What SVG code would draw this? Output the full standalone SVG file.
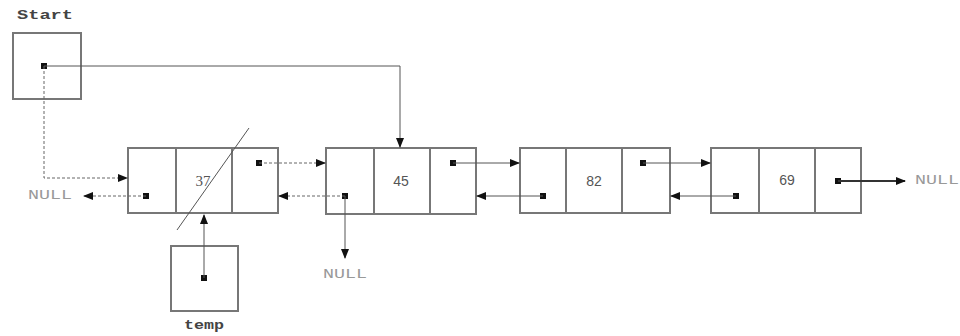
<svg xmlns="http://www.w3.org/2000/svg" width="960" height="336" viewBox="0 0 960 336">
<style>
.box{fill:none;stroke:#777;stroke-width:2}
.div{stroke:#777;stroke-width:2}
.dot{fill:#111}
.solid{fill:none;stroke:#555;stroke-width:1}
.dash{fill:none;stroke:#666;stroke-width:1;stroke-dasharray:3 2}
.thick{fill:none;stroke:#333;stroke-width:2}
.val{font-family:"Liberation Sans",Arial,sans-serif;font-size:14px;fill:#555;text-anchor:middle;dominant-baseline:middle}
.lbl{font-family:"Liberation Mono","Courier New",monospace;font-size:13px;fill:#999;dominant-baseline:middle}
.name{font-family:"Liberation Mono","Courier New",monospace;font-size:12px;font-weight:bold;fill:#444;text-anchor:middle;dominant-baseline:middle}
</style>
<defs>
<marker id="ah" markerWidth="10" markerHeight="8" refX="9" refY="4" orient="auto" markerUnits="userSpaceOnUse">
<path d="M0,0 L10,4 L0,8 Z" fill="#111"/>
</marker>
</defs>
<rect width="960" height="336" fill="#fff"/>

<g id="start">
<text class="name" x="45" y="16" textLength="56" lengthAdjust="spacingAndGlyphs">Start</text>
<rect class="box" x="13" y="33" width="68" height="66"/>
<rect class="dot" x="41" y="63" width="6" height="6"/>
</g>

<g id="temp">
<rect class="box" x="171" y="246" width="67" height="65"/>
<rect class="dot" x="201" y="275" width="6" height="6"/>
<text class="name" x="204" y="326" textLength="40" lengthAdjust="spacingAndGlyphs">temp</text>
</g>

<g id="node37">
<rect class="box" x="128" y="148" width="150" height="65"/>
<line class="div" x1="176" y1="148" x2="176" y2="213"/>
<line class="div" x1="232" y1="148" x2="232" y2="213"/>
<text class="val" x="203" y="183" style="font-family:'Liberation Serif','Times New Roman',serif;font-size:15px">37</text>
<line class="solid" x1="177" y1="230" x2="249" y2="128" stroke="#444"/>
<rect class="dot" x="143" y="193" width="6" height="6"/>
<rect class="dot" x="256" y="160" width="6" height="6"/>
</g>

<g id="node45">
<rect class="box" x="326" y="148" width="150" height="66"/>
<line class="div" x1="374" y1="148" x2="374" y2="214"/>
<line class="div" x1="430" y1="148" x2="430" y2="214"/>
<text class="val" x="401" y="182">45</text>
<rect class="dot" x="342" y="193" width="6" height="6"/>
<rect class="dot" x="450" y="160" width="6" height="6"/>
</g>

<g id="node82">
<rect class="box" x="520" y="148" width="150" height="65"/>
<line class="div" x1="566" y1="148" x2="566" y2="213"/>
<line class="div" x1="622" y1="148" x2="622" y2="213"/>
<text class="val" x="594" y="182">82</text>
<rect class="dot" x="540" y="193" width="6" height="6"/>
<rect class="dot" x="640" y="160" width="6" height="6"/>
</g>

<g id="node69">
<rect class="box" x="711" y="148" width="150" height="65"/>
<line class="div" x1="759" y1="148" x2="759" y2="213"/>
<line class="div" x1="815" y1="148" x2="815" y2="213"/>
<text class="val" x="787" y="181">69</text>
<rect class="dot" x="733" y="193" width="6" height="6"/>
<rect class="dot" x="835" y="178" width="6" height="6"/>
</g>

<g id="labels">
<text class="lbl" x="28" y="196" textLength="44" lengthAdjust="spacingAndGlyphs">NULL</text>
<text class="lbl" x="323" y="275" textLength="44" lengthAdjust="spacingAndGlyphs">NULL</text>
<text class="lbl" x="915" y="181" textLength="44" lengthAdjust="spacingAndGlyphs">NULL</text>
</g>

<g id="connectors">
<polyline class="solid" points="44,66 400,66 400,147" marker-end="url(#ah)"/>
<polyline class="dash" points="44,66 44,178 127,178" marker-end="url(#ah)"/>
<line class="dash" x1="146" y1="196" x2="84" y2="196" marker-end="url(#ah)"/>
<line class="dash" x1="259" y1="163" x2="325" y2="163" marker-end="url(#ah)"/>
<line class="dash" x1="345" y1="196" x2="279" y2="196" marker-end="url(#ah)"/>
<line class="solid" x1="345" y1="196" x2="345" y2="258" stroke-width="1.5" marker-end="url(#ah)"/>
<line class="solid" x1="204" y1="278" x2="204" y2="215" marker-end="url(#ah)"/>
<line class="solid" x1="453" y1="163" x2="519" y2="163" marker-end="url(#ah)"/>
<line class="solid" x1="543" y1="196" x2="477" y2="196" marker-end="url(#ah)"/>
<line class="solid" x1="643" y1="163" x2="710" y2="163" marker-end="url(#ah)"/>
<line class="solid" x1="736" y1="196" x2="671" y2="196" marker-end="url(#ah)"/>
<line class="thick" x1="838" y1="181" x2="905" y2="181" marker-end="url(#ah)"/>
</g>
</svg>
